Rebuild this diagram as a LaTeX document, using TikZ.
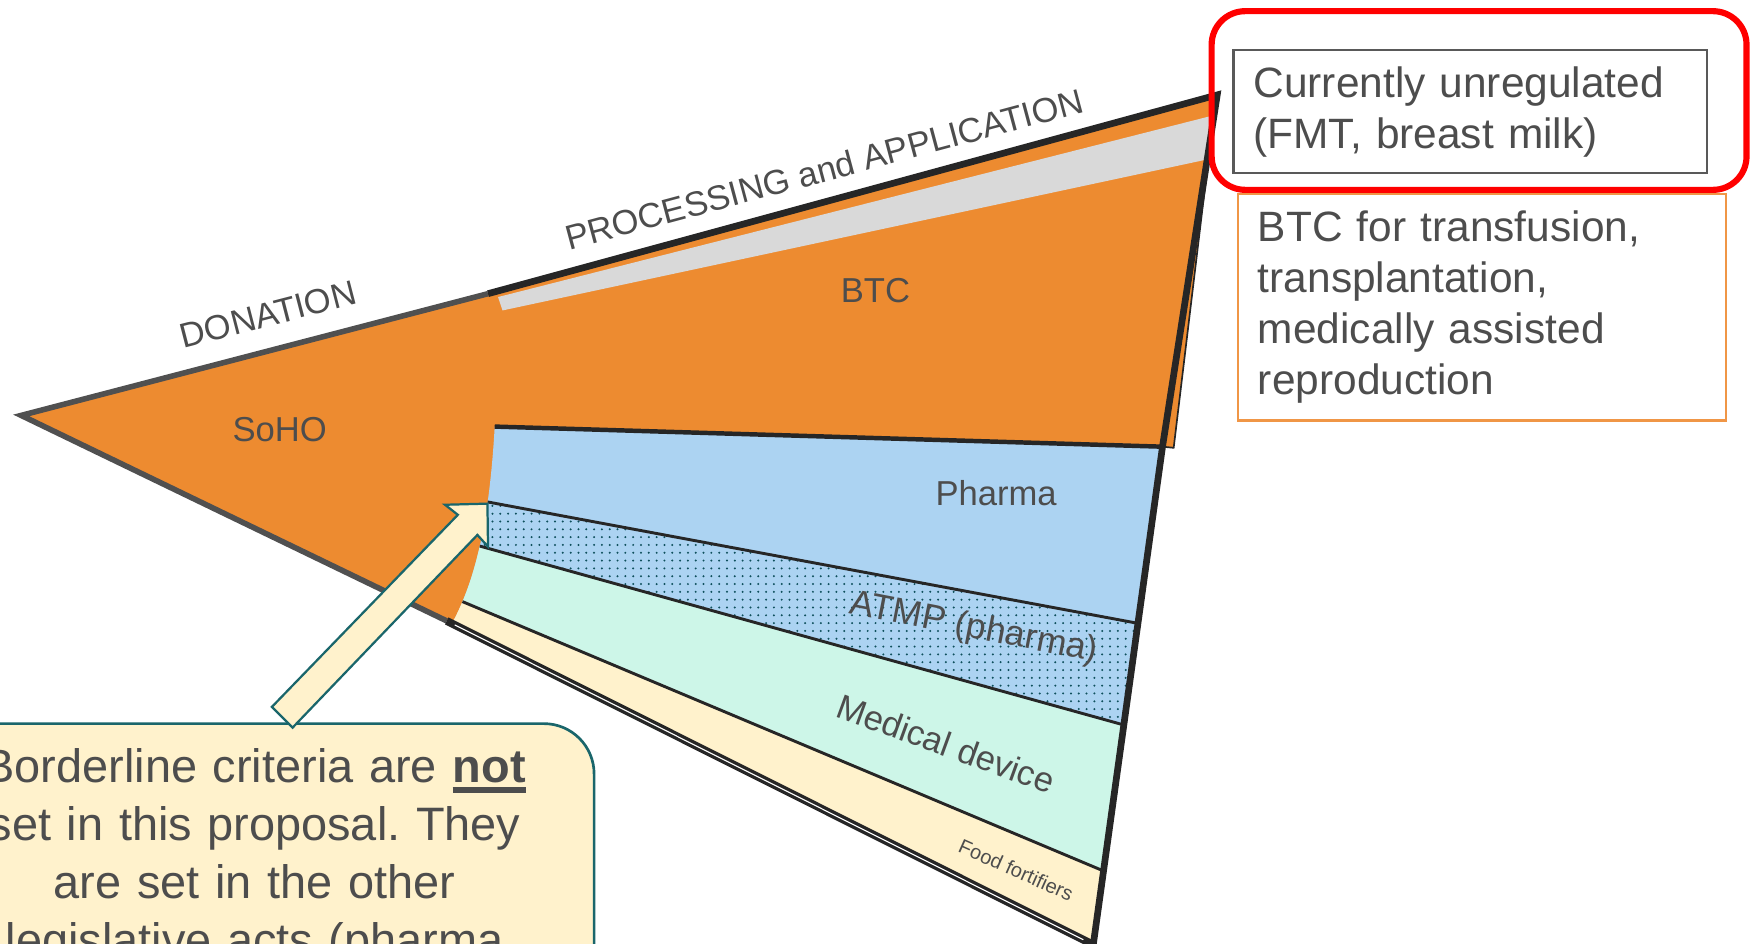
\documentclass[tikz,border=0pt]{standalone}
\usepackage{fontspec}
\setmainfont{Liberation Sans}
\usetikzlibrary{patterns.meta}
\definecolor{sohoorange}{RGB}{237,139,48}
\definecolor{stripgray}{RGB}{217,217,217}
\definecolor{pharmablue}{RGB}{172,211,242}
\definecolor{devicemint}{RGB}{205,246,232}
\definecolor{foodcream}{RGB}{255,242,204}
\definecolor{txtgray}{RGB}{77,77,77}
\definecolor{edgegray}{RGB}{80,80,80}
\definecolor{edgeblack}{RGB}{38,38,38}
\definecolor{calloutteal}{RGB}{26,102,107}
\definecolor{dotteal}{RGB}{15,80,92}
\definecolor{boxorange}{RGB}{240,150,70}
\definecolor{boxgray}{RGB}{89,89,89}
\newcommand{\boldul}[1]{\leavevmode\vtop{\hbox{\bfseries #1}\kern4pt\hrule height 5pt}}
\frenchspacing
\begin{document}
\begin{tikzpicture}[x=1pt,y=-1pt,
  lbl/.style={text=txtgray,inner sep=0pt,font=\fontsize{31}{37}\selectfont},
  bandline/.style={draw=edgeblack,line width=2.6pt},
  infobox/.style={text=txtgray,line width=2.2pt,align=left,inner xsep=18pt,
    font=\fontsize{38}{45.5}\selectfont},
  callout/.style={draw=calloutteal,fill=foodcream,line width=2.4pt,rounded corners=45pt}]
\useasboundingbox (0,0) rectangle (1568,845);
\clip (0,0) rectangle (1568,845);
%wedge corners
\coordinate (tip) at (19,372);
\coordinate (mid) at (437,263);
\coordinate (topR) at (1090,85);
\coordinate (botR) at (979,846);
\coordinate (botM) at (400,556);
\coordinate (phL) at (443,382);
\coordinate (phR) at (1041,400);
%SoHO and BTC
\fill[sohoorange] (tip) -- (mid) -- (topR) -- (phR) -- (botR) -- (botM) -- cycle;
\fill[stripgray] (446,266) -- (1084,104) -- (1080,143) -- (450,278) -- cycle;
\filldraw[fill=sohoorange,draw=edgeblack,line width=1.5pt] (1083,135) -- (1051,401) -- (phR);
%bands
\begin{scope}
\clip (phL) .. controls (438,470) and (425,520) .. (406,556) -- (botR) -- (phR) -- cycle;
\fill[pharmablue] (380,370) rectangle (1100,900);
\fill[pattern={Dots[distance=7pt,radius=1pt]},pattern color=dotteal]
  (380,438.9) -- (1100,573.3) -- (1100,675.2) -- (380,475.2) -- cycle;
\fill[devicemint] (380,475.2) -- (1100,675.2) -- (1100,826.9) -- (380,524.4) -- cycle;
\fill[foodcream] (380,524.4) -- (1100,826.9) -- (1100,900) -- (380,900) -- cycle;
\draw[bandline] (380,438.9) -- (1100,573.3);
\draw[bandline] (380,475.2) -- (1100,675.2);
\draw[bandline] (380,524.4) -- (1100,826.9);
\end{scope}
%edges
\draw[edgeblack,line width=4pt] (phL) -- (phR);
\draw[edgegray,line width=5pt] (mid) -- (tip) -- (botM);
\draw[edgeblack,line width=6pt] (mid) -- (topR) -- (phR) -- (botR);
\draw[edgeblack,line width=7pt] (botM) -- (botR);
\draw[white,line width=1pt,yshift=1.8pt,shorten <=8pt,shorten >=10pt] (botM) -- (botR);
%labels
\node[lbl,rotate=14.5] (donation) at (240,281.6) {DONATION};
\node[lbl,rotate=15] (processing) at (738,151.5) {PROCESSING and APPLICATION};
\node[lbl] (soho) at (250.5,385) {SoHO};
\node[lbl] (btc) at (784,260) {BTC};
\node[lbl] (pharma) at (892,442) {Pharma};
\node[lbl,rotate=-11,font=\fontsize{32}{38}\selectfont] (atmp) at (872,563) {ATMP (pharma)};
\node[lbl,rotate=-20] (device) at (847,666) {Medical device};
\node[lbl,rotate=-24,font=\fontsize{18}{21}\selectfont] (food) at (910,779) {Food fortifiers};
%boxes on the right
\draw[red,line width=5.5pt,rounded corners=30pt] (1085,10) rectangle (1564,170);
\node[infobox,draw=boxgray,text width=388pt,minimum height=110pt] (unreg) at (1316.5,100)
  {Currently unregulated\\(FMT, breast milk)};
\node[infobox,draw=boxorange,text width=401pt,minimum height=203pt] (btcuse) at (1327,275)
  {BTC for transfusion,\\transplantation,\\medically assisted\\reproduction};
%note and arrow
\draw[callout] (-76,648) rectangle (532,960);
\node[text=txtgray,inner sep=0pt,anchor=north,text width=600pt,align=center,
  font=\fontsize{42}{52}\selectfont] (note) at (228,670)
  {Borderline criteria are \boldul{not}\\set in this proposal. They\\are set in the other\\legislative acts (pharma};
\draw[calloutteal,fill=foodcream,line width=2pt] (243.5,633) -- (410,461) -- (398.5,452)
  -- (436.5,451) -- (437,489.5) -- (427.5,479) -- (262,651.6) -- cycle;
\end{tikzpicture}
\end{document}
